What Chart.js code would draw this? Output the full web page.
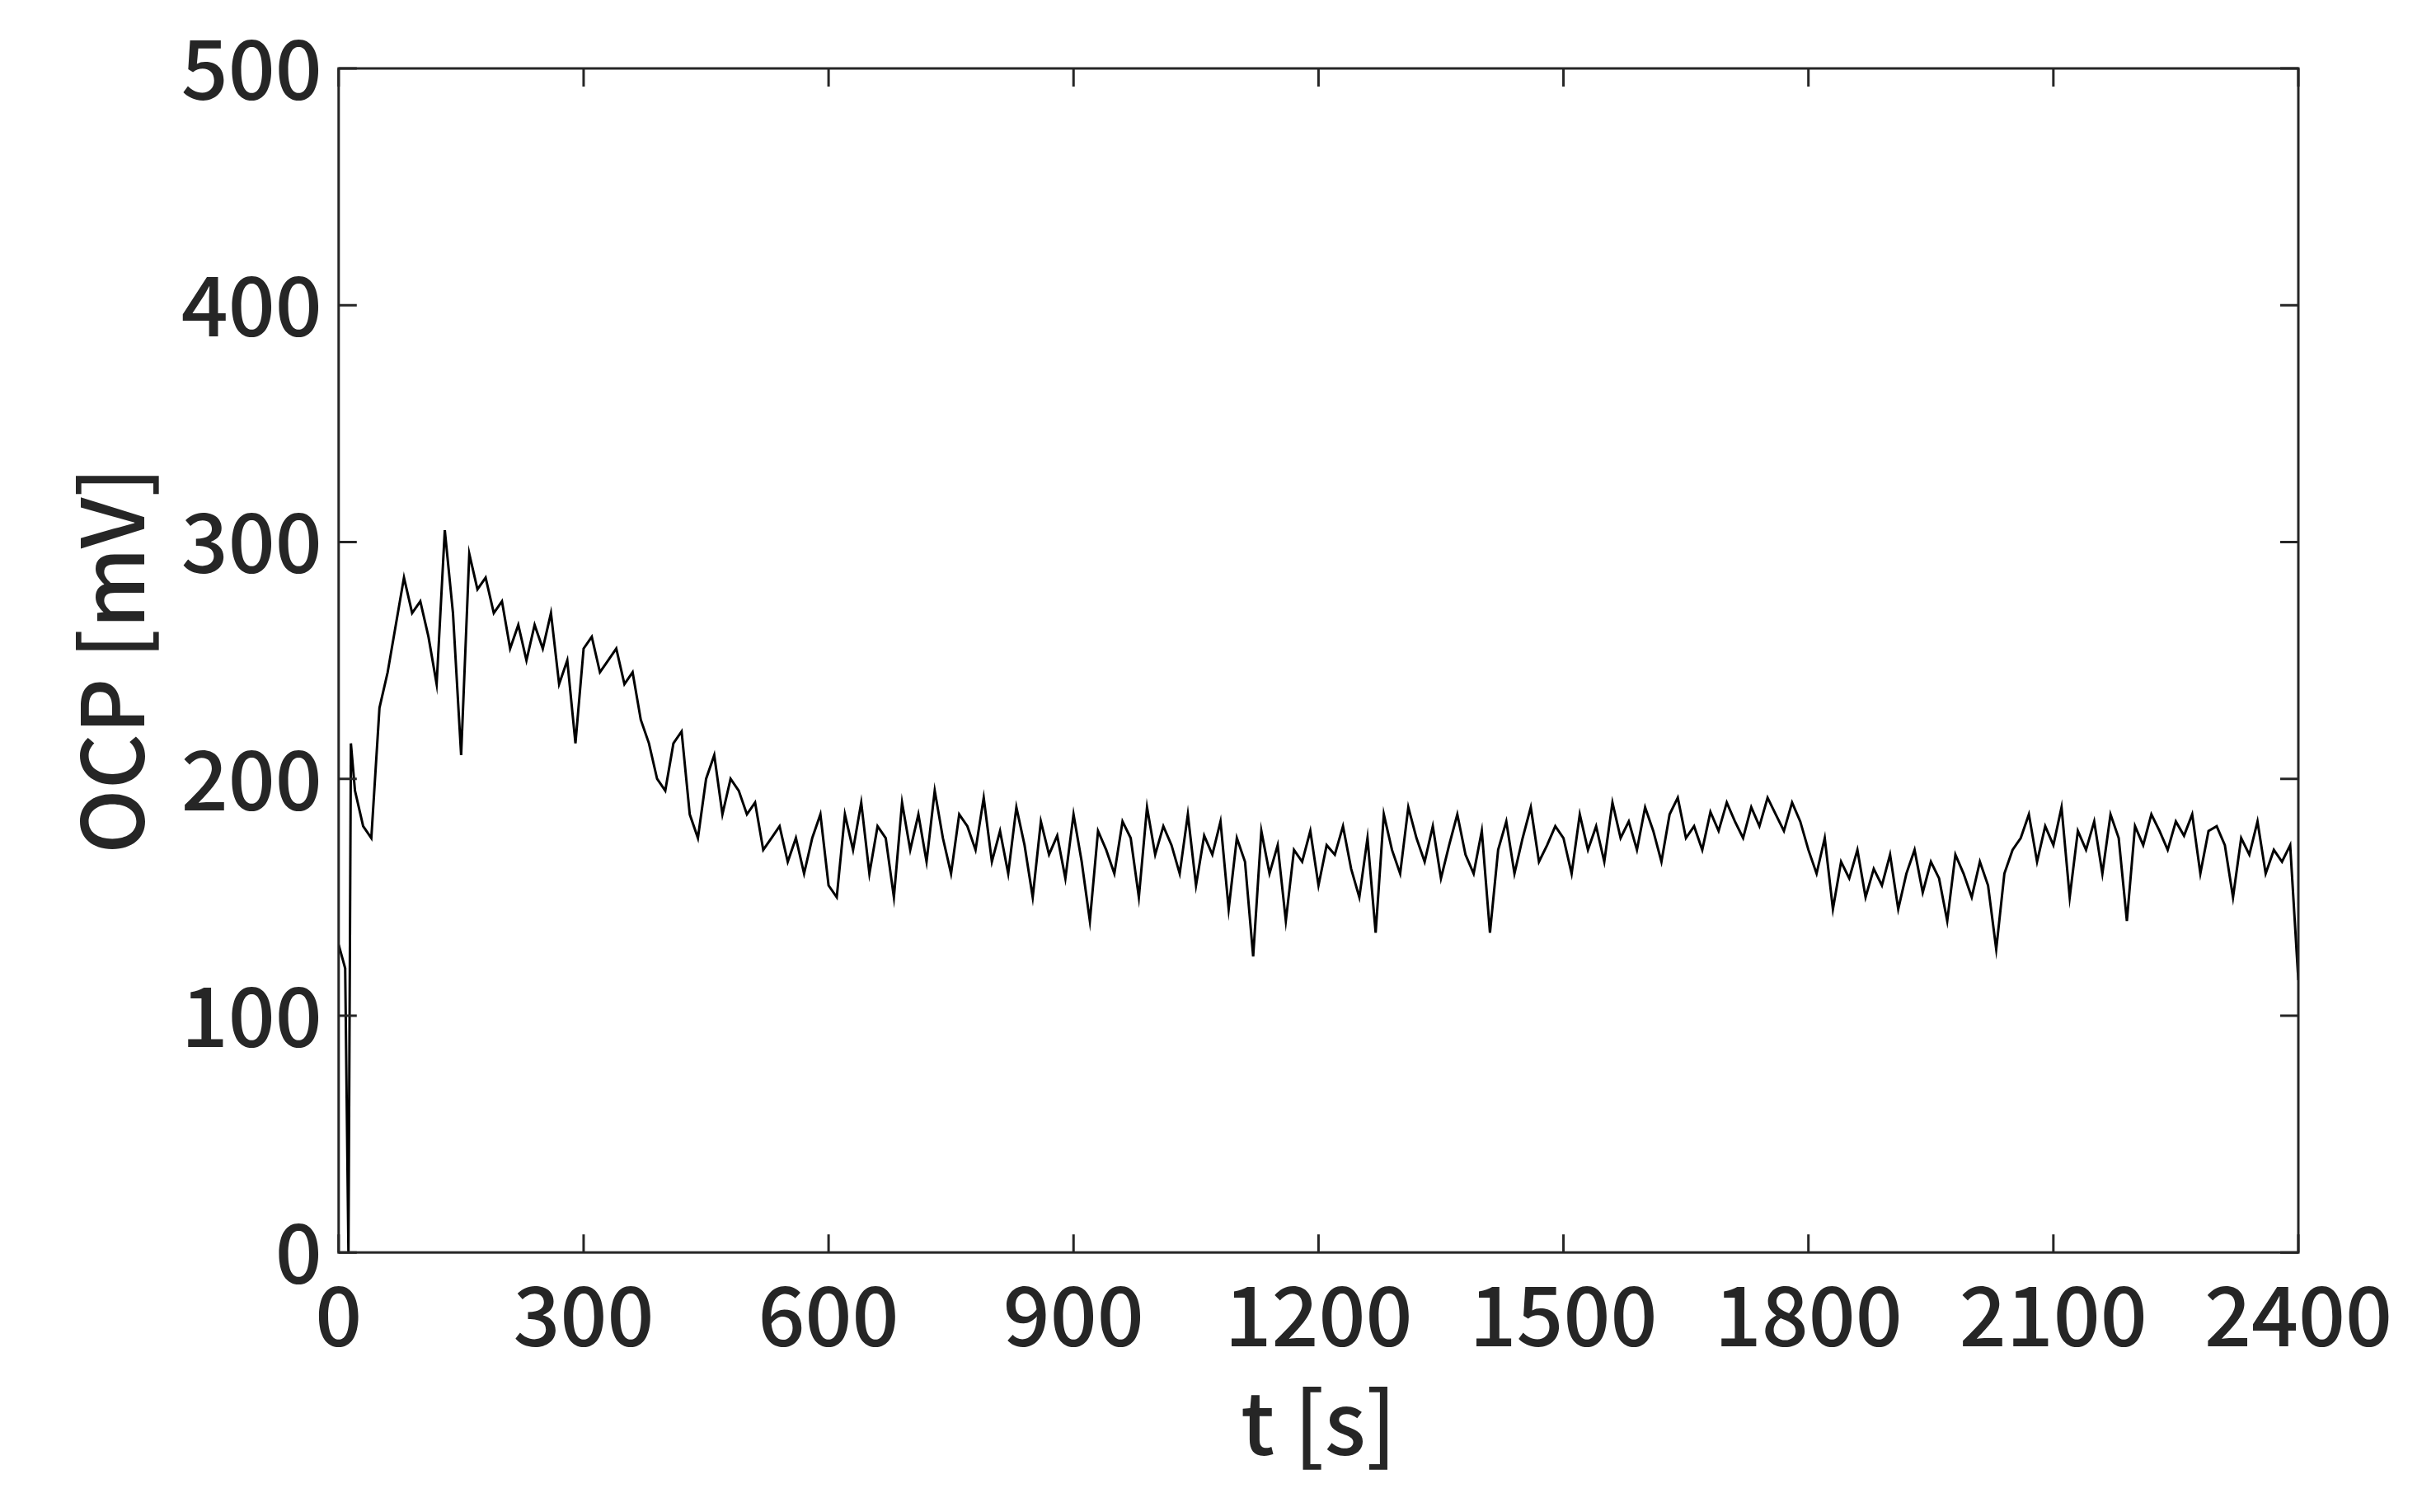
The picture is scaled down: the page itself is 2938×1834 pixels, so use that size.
<!DOCTYPE html>
<html><head><meta charset="utf-8">
<script src="https://cdn.jsdelivr.net/npm/chart.js@4"></script>
<style>html,body{margin:0;padding:0;background:#fff}#c{display:block}</style>
</head><body>
<div style="width:2938px;height:1834px"><canvas id="c"></canvas></div>
<script>
const times = [0,8,12,15];
const ocp = [130,120,0,215];
const ocpHead = [195,180,175,230,245,265,285,270,275,260,240,305,270,210,295,280,285,270,275,255,265,250,265,255,270,240,250,215,255,260,245,250,255,240,245,225,215,200,195,215,220,185,175,200,210,185,200,195,185,190,170,175,180,165,175,160,175,185,155,150,
185,170,190,160,180,175,150,190,170,185,165,195,175,160,185,180,170,192,165,178,160,188,172,150,182,168,176,158,185,165,140,178,170,160,182,175,150,188,168,180,172,160,185,155,176,168,182,145,175,165,125,178,160,172,140,170,165,178,155,172,168,180,162,150,175,135,185,170,160,188,175,165,180,158,172,185,168,160,178,135,170,182,160,175,188,165,172,180];
const ocpTail = [175,160,185,170,180,165,190,175,182,170,188,178,165,185,192,175,180,170,186,178,190,182,175,188,180,192,185,178,190,182,
170,160,175,145,165,158,170,150,162,155,168,145,160,170,152,165,158,140,168,160,150,165,155,128,160,170,
175,185,165,180,172,188,150,178,170,182,160,185,175,140,180,172,185,178,170,182,176,185,160,178,180,172,150,175,168,182,160,170,165,172,115];
const ocpRest = ocpHead.concat(ocpTail);
for (let i=0;i<ocpRest.length;i++){ times.push(20+10*i); ocp.push(ocpRest[i]); }
const xTicks=[0,300,600,900,1200,1500,1800,2100,2400];
const yTicks=[0,100,200,300,400,500];
const FONT="'Noto Sans CJK JP','Noto Sans',sans-serif";
const pts=times.map((t,i)=>({x:t,y:ocp[i]}));
const frame={id:'frame',afterDraw(c){const g=c.ctx,a=c.chartArea,x=c.scales.x,y=c.scales.y;g.save();g.strokeStyle='#262626';g.lineWidth=3;g.strokeRect(a.left,a.top,a.right-a.left,a.bottom-a.top);const L=22;g.beginPath();xTicks.forEach(v=>{const p=x.getPixelForValue(v);g.moveTo(p,a.bottom);g.lineTo(p,a.bottom-L);g.moveTo(p,a.top);g.lineTo(p,a.top+L);});yTicks.forEach(v=>{const p=y.getPixelForValue(v);g.moveTo(a.left,p);g.lineTo(a.left+L,p);g.moveTo(a.right,p);g.lineTo(a.right-L,p);});g.stroke();g.restore();}};
new Chart(document.getElementById('c'),{type:'line',data:{datasets:[{data:pts,borderColor:'#000',borderWidth:3,pointRadius:0,tension:0}]},
options:{responsive:true,maintainAspectRatio:false,animation:false,layout:{padding:{left:63,right:150,top:83,bottom:46}},
plugins:{legend:{display:false},tooltip:{enabled:false}},
scales:{x:{type:'linear',min:0,max:2400,afterBuildTicks:s=>{s.ticks=xTicks.map(v=>({value:v}))},grid:{display:false},border:{display:false},ticks:{color:'#262626',font:{family:FONT,size:100,weight:'500'},padding:8,maxRotation:0,callback:v=>String(v)},title:{display:true,text:'t [s]',color:'#262626',font:{family:FONT,size:104,weight:'500'},padding:0}},
y:{min:0,max:500,afterBuildTicks:s=>{s.ticks=yTicks.map(v=>({value:v}))},grid:{display:false},border:{display:false},ticks:{color:'#262626',font:{family:FONT,size:100,weight:'500'},padding:12,callback:v=>String(v)},title:{display:true,text:'OCP [mV]',color:'#262626',font:{family:FONT,size:104,weight:'500'},padding:10}}}},
plugins:[frame]});
</script></body></html>
